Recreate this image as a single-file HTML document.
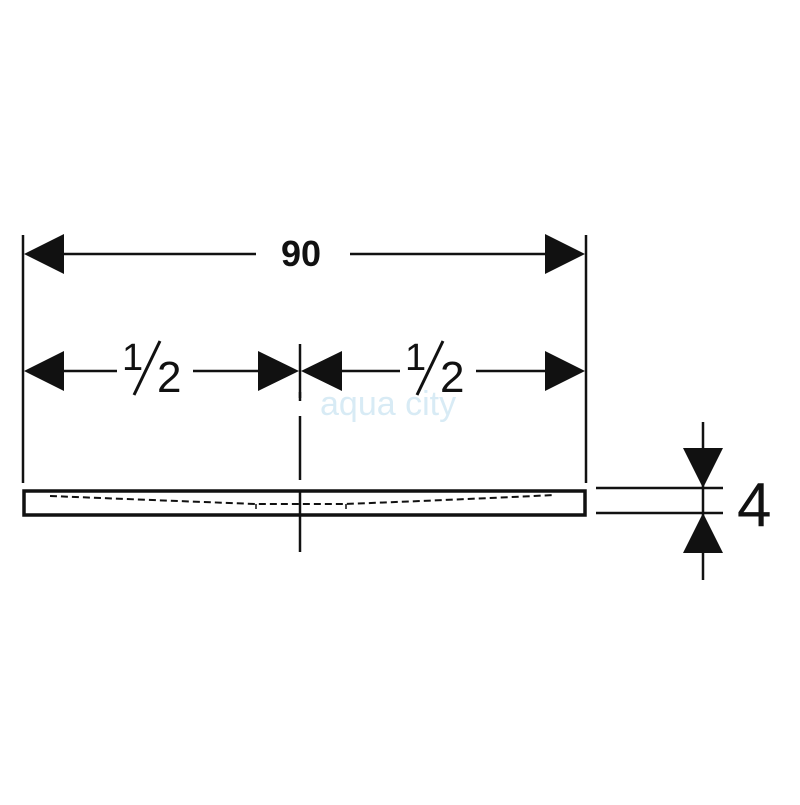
<!DOCTYPE html>
<html><head><style>html,body{margin:0;padding:0;background:#fff}</style></head>
<body>
<svg width="800" height="800" viewBox="0 0 800 800" xmlns="http://www.w3.org/2000/svg">
<rect width="800" height="800" fill="#fff"/>
<g stroke="#111" fill="none">
<line x1="23" y1="235" x2="23" y2="483" stroke-width="2.5"/>
<line x1="586" y1="235" x2="586" y2="483" stroke-width="2.5"/>
<rect x="24" y="491" width="561" height="24" stroke-width="3.5"/>
<line x1="64" y1="254" x2="256" y2="254" stroke-width="2.5"/>
<line x1="350" y1="254" x2="545" y2="254" stroke-width="2.5"/>
<line x1="64" y1="371" x2="117" y2="371" stroke-width="2.5"/>
<line x1="193" y1="371" x2="258" y2="371" stroke-width="2.5"/>
<line x1="341" y1="371" x2="400" y2="371" stroke-width="2.5"/>
<line x1="476" y1="371" x2="545" y2="371" stroke-width="2.5"/>
<line x1="300" y1="344" x2="300" y2="398" stroke-width="2.5"/>
<line x1="300" y1="392" x2="300" y2="401" stroke-width="2.5"/>
<line x1="300" y1="416" x2="300" y2="480" stroke-width="2.5"/>
<line x1="300" y1="491" x2="300" y2="552" stroke-width="2.5"/>
<path d="M50 496 Q150 500 256 504 L345 504 Q450 500 555 495" stroke-width="2" stroke-dasharray="7 4"/>
<line x1="256" y1="504" x2="256" y2="509" stroke-width="1.5"/>
<line x1="346" y1="504" x2="346" y2="509" stroke-width="1.5"/>
<line x1="596" y1="488" x2="723" y2="488" stroke-width="2.5"/>
<line x1="596" y1="513" x2="723" y2="513" stroke-width="2.5"/>
<line x1="703" y1="422" x2="703" y2="580" stroke-width="2.5"/>
</g>
<g fill="#111">
<polygon points="24,254 64,234 64,274"/>
<polygon points="585,254 545,234 545,274"/>
<polygon points="24,371 64,351 64,391"/>
<polygon points="299,371 258,351 258,391"/>
<polygon points="301,371 342,351 342,391"/>
<polygon points="585,371 545,351 545,391"/>
<polygon points="683,448 723,448 703,488"/>
<polygon points="683,553 723,553 703,513"/>
</g>
<text x="301" y="266" font-family="Liberation Sans, sans-serif" font-weight="bold" font-size="36" text-anchor="middle" fill="#111">90</text>
<g font-family="Liberation Sans, sans-serif" fill="#111">
<text x="122" y="370" font-size="38">1</text>
<line x1="134" y1="395" x2="160" y2="341" stroke="#111" stroke-width="3"/>
<text x="157" y="392" font-size="44">2</text>
<text x="405" y="370" font-size="38">1</text>
<line x1="417" y1="395" x2="443" y2="341" stroke="#111" stroke-width="3"/>
<text x="440" y="392" font-size="44">2</text>
<text x="737" y="526" font-size="62">4</text>
</g>
<text x="320" y="415" font-family="Liberation Sans, sans-serif" font-size="34" fill="#d8ebf5">aqua city</text>
</svg>
</body></html>
